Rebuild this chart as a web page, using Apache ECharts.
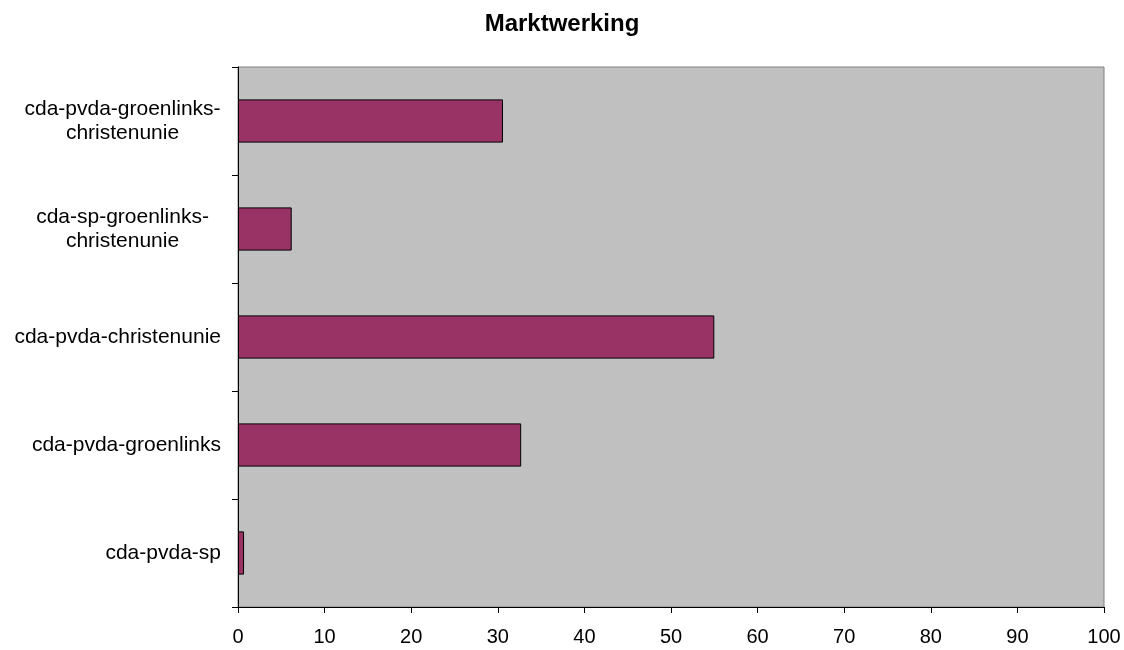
<!DOCTYPE html>
<html>
<head>
<meta charset="utf-8">
<script src="https://cdn.jsdelivr.net/npm/echarts@6/dist/echarts.min.js"></script>
<style>
html,body{margin:0;padding:0;background:#fff;}
#chart{width:1124px;height:650px;}
</style>
</head>
<body>
<div id="chart"></div>
<script>
const titleText = 'Marktwerking';
const categories = [
  'cda-pvda-sp',
  'cda-pvda-groenlinks',
  'cda-pvda-christenunie',
  'cda-sp-groenlinks-\nchristenunie',
  'cda-pvda-groenlinks-\nchristenunie'
];
const values = [0.7, 32.7, 55.0, 6.2, 30.6];
const xTicks = [0, 10, 20, 30, 40, 50, 60, 70, 80, 90, 100];

const font = "'Liberation Sans', Arial, sans-serif";
const labelSize = 21;
const ctx = document.createElement('canvas').getContext('2d');
ctx.font = labelSize + 'px ' + font;
function labelFmt(v) {
  const lines = v.split('\n');
  if (lines.length === 1) return v;
  return lines.map(l => '{c|' + l + '}').join('\n');
}
const maxMulti = Math.max.apply(null, categories.filter(c => c.indexOf('\n') >= 0)
  .map(c => Math.max.apply(null, c.split('\n').map(l => ctx.measureText(l).width))));

const chart = echarts.init(document.getElementById('chart'));
chart.setOption({
  backgroundColor: '#ffffff',
  animation: false,
  title: {
    text: titleText,
    left: 'center',
    top: 7,
    textStyle: { fontFamily: font, fontSize: 24, fontWeight: 'bold', color: '#000' }
  },
  grid: {
    left: 238, right: 20, top: 67, bottom: 43,
    show: true,
    backgroundColor: '#C0C0C0',
    borderColor: '#808080',
    borderWidth: 1
  },
  xAxis: {
    type: 'value',
    min: xTicks[0],
    max: xTicks[xTicks.length - 1],
    interval: 10,
    splitLine: { show: false },
    axisLine: { show: true, lineStyle: { color: '#000', width: 1 } },
    axisTick: { show: true, length: 6, lineStyle: { color: '#000' } },
    axisLabel: { margin: 20, fontFamily: font, fontSize: 20, color: '#000' }
  },
  yAxis: {
    type: 'category',
    data: categories,
    axisLine: { show: true, lineStyle: { color: '#000', width: 1 } },
    axisTick: { show: true, length: 6, lineStyle: { color: '#000' } },
    axisLabel: {
      margin: 17, fontFamily: font, fontSize: labelSize, lineHeight: 24, color: '#000',
      formatter: labelFmt,
      rich: { c: { width: Math.ceil(maxMulti), align: 'center', fontFamily: font, fontSize: labelSize, lineHeight: 24, color: '#000' } }
    },
    splitLine: { show: false }
  },
  series: [{
    type: 'bar',
    data: values,
    barWidth: '40%',
    itemStyle: { color: '#993366', borderColor: '#000', borderWidth: 1 }
  }]
});
</script>
</body>
</html>
